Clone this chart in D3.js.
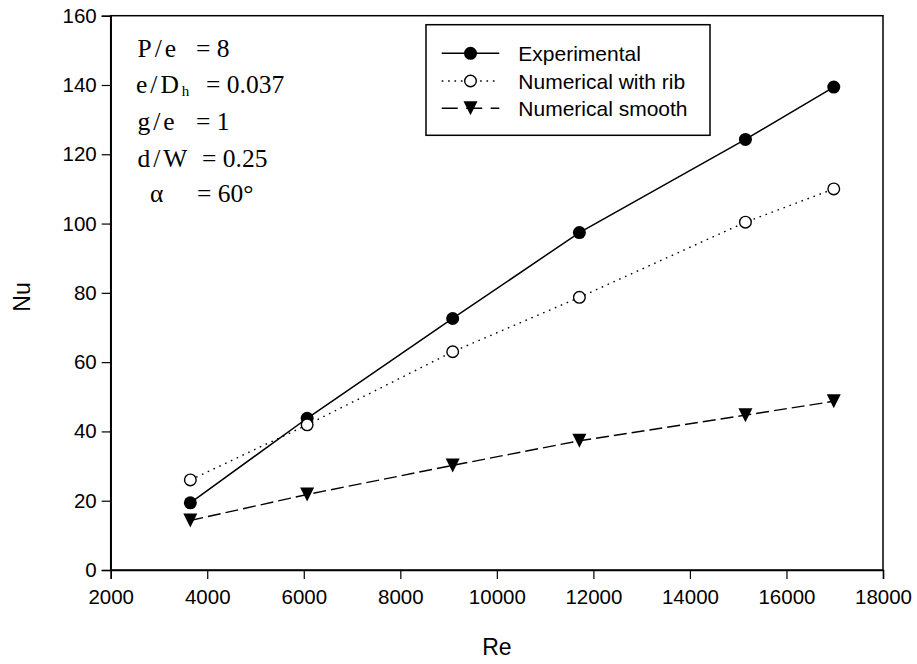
<!DOCTYPE html>
<html>
<head>
<meta charset="utf-8">
<script src="https://cdn.jsdelivr.net/npm/d3@7"></script>
<style>
  body { margin: 0; background: #fff; }
  svg { display: block; }
</style>
</head>
<body>
<div id="chart"></div>
<script>
const width = 917;
const height = 664;
const margin = { top: 15.7, right: 34, bottom: 94, left: 110.7 };

// Data
const reValues = [3650, 6070, 9085, 11710, 15150, 16980];
const experimental = [19.4, 43.8, 72.6, 97.4, 124.3, 139.4];
const numericalRib = [26.0, 41.9, 63.0, 78.7, 100.4, 110.0];
const numericalSmooth = [14.3, 21.8, 30.2, 37.3, 44.7, 48.7];

const xTicks = [2000, 4000, 6000, 8000, 10000, 12000, 14000, 16000, 18000];
const yTicks = [0, 20, 40, 60, 80, 100, 120, 140, 160];

const seriesNames = ["Experimental", "Numerical with rib", "Numerical smooth"];

const sans = "Arial, 'Liberation Sans', sans-serif";
const serif = "'Liberation Serif', 'Times New Roman', serif";

const svg = d3.select("#chart").append("svg")
    .attr("width", width).attr("height", height)
    .style("font-family", sans);

const x = d3.scaleLinear().domain([2000, 18000]).range([margin.left, width - margin.right]);
const y = d3.scaleLinear().domain([0, 160]).range([height - margin.bottom, margin.top]);

// Frame
svg.append("rect")
    .attr("x", x(2000)).attr("y", y(160))
    .attr("width", x(18000) - x(2000)).attr("height", y(0) - y(160))
    .attr("fill", "none").attr("stroke", "#000").attr("stroke-width", 1.5);

// Axes
const xAxis = svg.append("g")
    .attr("transform", `translate(0,${y(0)})`)
    .call(d3.axisBottom(x).tickValues(xTicks).tickSize(9).tickPadding(6).tickFormat(d3.format("d")));
const yAxis = svg.append("g")
    .attr("transform", `translate(${x(2000)},0)`)
    .call(d3.axisLeft(y).tickValues(yTicks).tickSize(9).tickPadding(5).tickFormat(d3.format("d")));

[xAxis, yAxis].forEach((g) => {
    g.select(".domain").attr("stroke-width", 1.5);
    g.selectAll(".tick line").attr("stroke-width", 1.2);
    g.selectAll("text").style("font-size", "20.5px").style("font-family", sans).attr("fill", "#000");
});
xAxis.selectAll("text").attr("dy", "0.95em");

// Axis titles
svg.append("text")
    .attr("x", x(10000)).attr("y", 655)
    .attr("text-anchor", "middle").style("font-size", "23px").text("Re");
svg.append("text")
    .attr("transform", `translate(30,${297}) rotate(-90)`)
    .attr("text-anchor", "middle").style("font-size", "23px").text("Nu");

// Series
const line = d3.line().x((d) => x(d[0])).y((d) => y(d[1]));
const zip = (vals) => reValues.map((r, i) => [r, vals[i]]);

const styles = [
    { data: zip(experimental), dash: null, marker: "filled" },
    { data: zip(numericalRib), dash: "1.6,4.8", marker: "open" },
    { data: zip(numericalSmooth), dash: "13,5", marker: "triangle" },
];

const triangle = (cx, cy) => {
    const w = 7, h = 12;
    return `M${cx - w},${cy - h / 2 - 1}L${cx + w},${cy - h / 2 - 1}L${cx},${cy + h / 2 + 1}Z`;
};

function drawMarker(g, kind, cx, cy) {
    if (kind === "filled") {
        g.append("circle").attr("cx", cx).attr("cy", cy).attr("r", 6.5).attr("fill", "#000");
    } else if (kind === "open") {
        g.append("circle").attr("cx", cx).attr("cy", cy).attr("r", 5.8)
            .attr("fill", "#fff").attr("stroke", "#000").attr("stroke-width", 1.4);
    } else {
        g.append("path").attr("d", triangle(cx, cy)).attr("fill", "#000");
    }
}

styles.forEach((s) => {
    svg.append("path")
        .datum(s.data)
        .attr("d", line)
        .attr("fill", "none")
        .attr("stroke", "#000")
        .attr("stroke-width", s.marker === "filled" ? 1.5 : 1.4)
        .attr("stroke-dasharray", s.dash);
    const g = svg.append("g");
    s.data.forEach((d) => drawMarker(g, s.marker, x(d[0]), y(d[1])));
});

// Legend
const legend = svg.append("g");
legend.append("rect")
    .attr("x", 426).attr("y", 24.7).attr("width", 284).attr("height", 110.6)
    .attr("fill", "#fff").attr("stroke", "#000").attr("stroke-width", 1.5);
const legendRows = [53.3, 81, 108.3];
styles.forEach((s, i) => {
    const ly = legendRows[i];
    legend.append("line")
        .attr("x1", 441.7).attr("x2", 499.3).attr("y1", ly).attr("y2", ly)
        .attr("stroke", "#000").attr("stroke-width", 1.4)
        .attr("stroke-dasharray", s.dash === "13,5" ? "16,8.5" : s.dash);
    drawMarker(legend, s.marker, 470.5, ly);
    legend.append("text")
        .attr("x", 518.3).attr("y", ly).attr("dy", "0.36em")
        .style("font-size", "21px").text(seriesNames[i]);
});

// Parameter annotation
const notes = svg.append("g").style("font-family", serif).style("font-size", "25.5px").attr("fill", "#000");
const noteRows = [
    { label: "P/e", lx: 137.5, value: "= 8", vx: 196, y: 56.7 },
    { label: "e/D", sub: "h", lx: 136, value: "= 0.037", vx: 206, y: 93.3 },
    { label: "g/e", lx: 137.5, value: "= 1", vx: 196, y: 130 },
    { label: "d/W", lx: 137.5, value: "= 0.25", vx: 202, y: 166.7 },
    { label: "α", lx: 150, value: "= 60°", vx: 197, y: 201.7 },
];
noteRows.forEach((r) => {
    const t = notes.append("text").attr("x", r.lx).attr("y", r.y);
    t.append("tspan").style("letter-spacing", "3px").text(r.label);
    if (r.sub) t.append("tspan").style("font-size", "15px").attr("dy", "3").text(r.sub);
    notes.append("text").attr("x", r.vx).attr("y", r.y).text(r.value);
});
</script>
</body>
</html>
